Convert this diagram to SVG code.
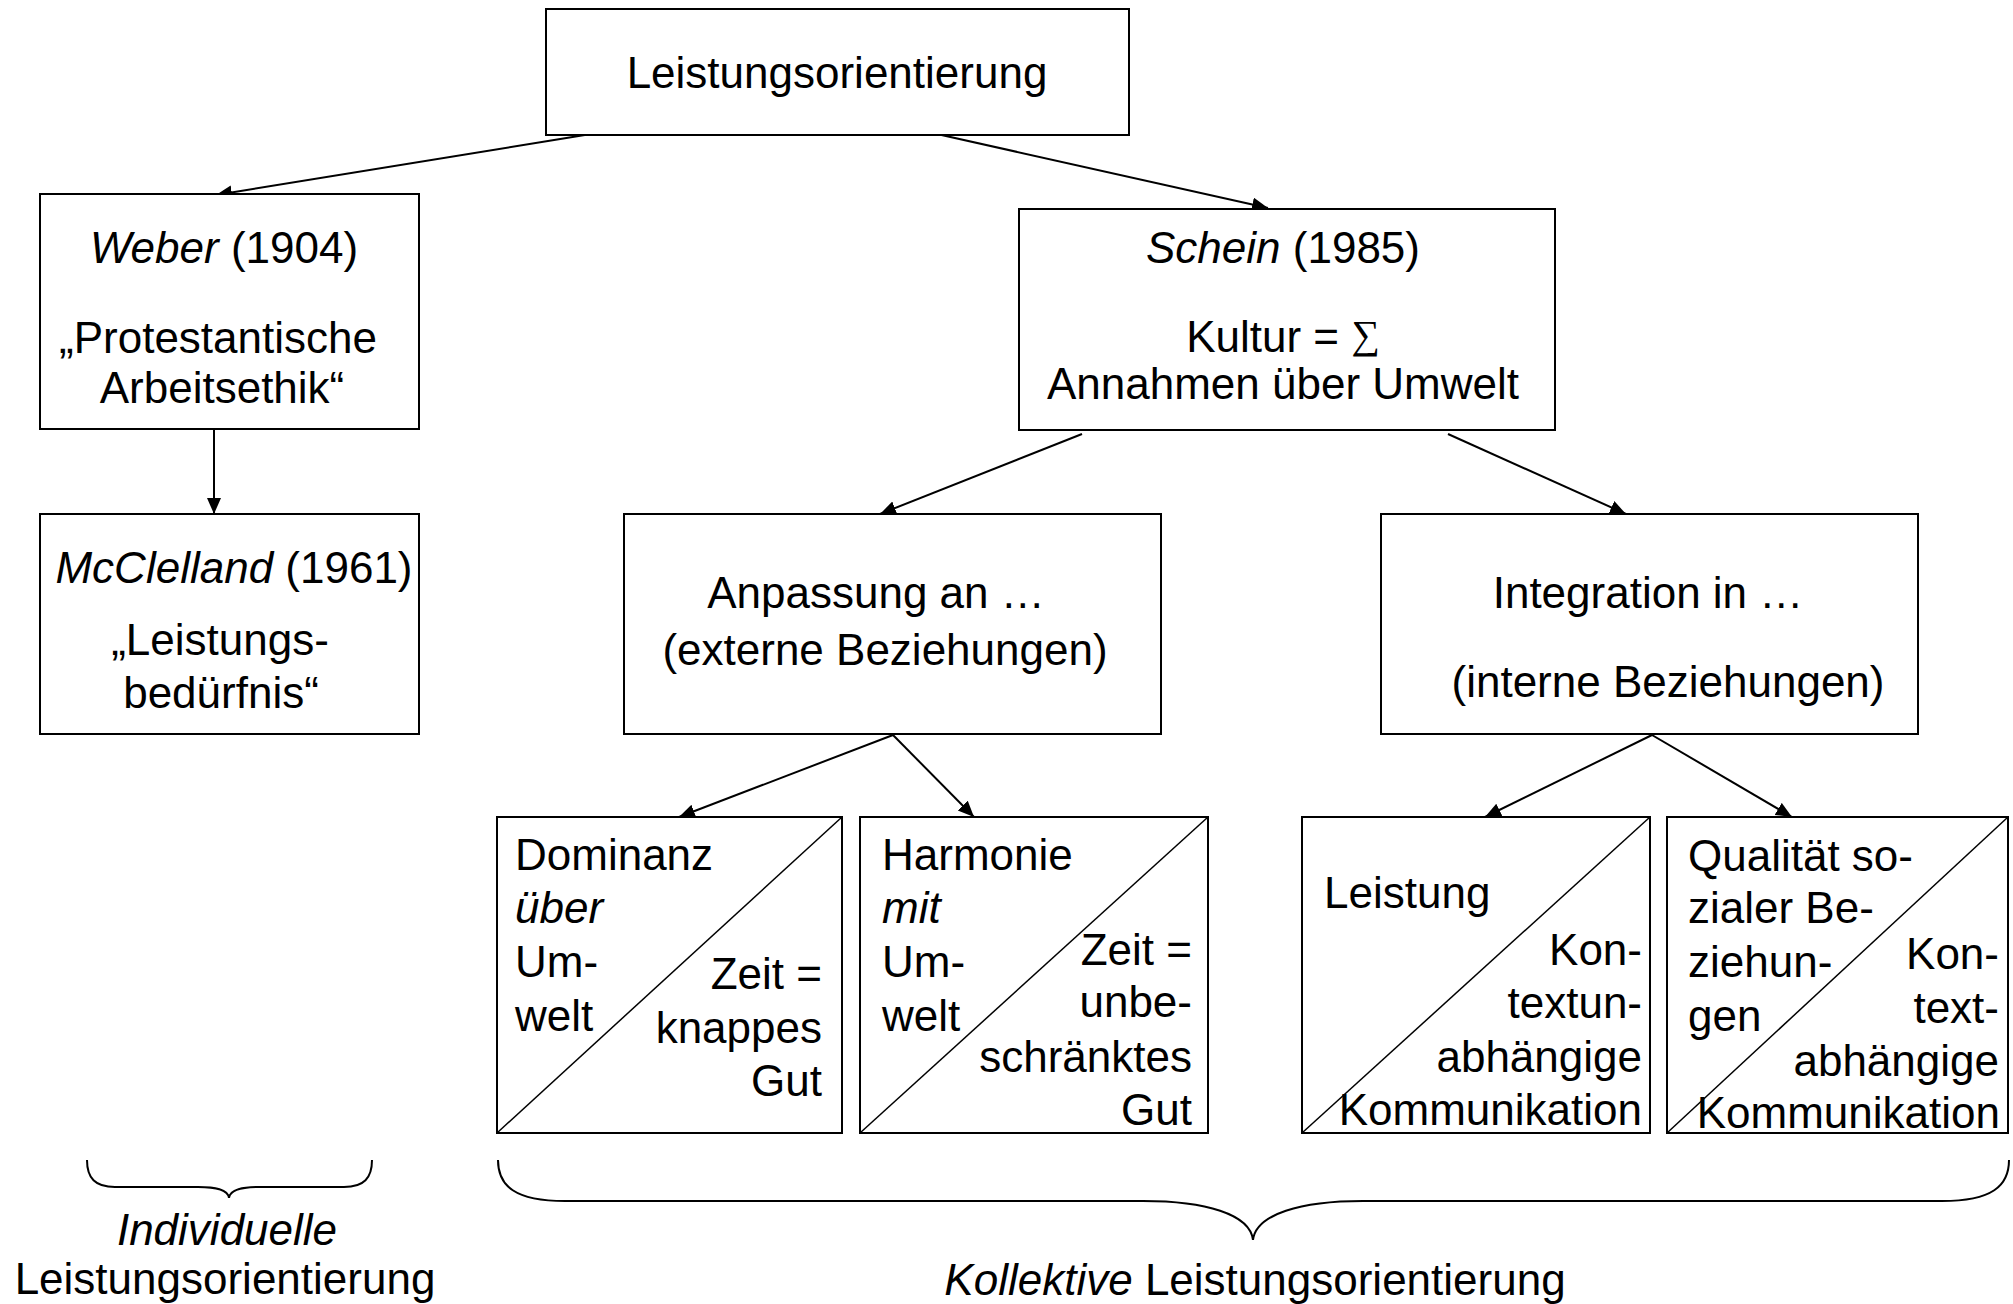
<svg xmlns="http://www.w3.org/2000/svg" width="2013" height="1304" viewBox="0 0 2013 1304">
  <style>
    text { font-family: "Liberation Sans", Arial, sans-serif; font-size: 44px; fill: #000; }
    .c { text-anchor: middle; }
    .r { text-anchor: end; }
    .i { font-style: italic; }
    .box { fill: #fff; stroke: #000; stroke-width: 2; }
    .diag { fill: none; stroke: #000; stroke-width: 1.5; }
    .link { fill: none; stroke: #000; stroke-width: 2; marker-end: url(#arrow); }
    .brace { fill: none; stroke: #000; stroke-width: 2; }
    .sym { font-family: "Liberation Serif", "DejaVu Serif", serif; font-size: 40px; }
  </style>
  <defs>
    <marker id="arrow" markerUnits="userSpaceOnUse" markerWidth="18" markerHeight="16" refX="16" refY="7" orient="auto">
      <path d="M0,0 L16,7 L0,14 z" fill="#000"/>
    </marker>
  </defs>

  <rect width="2013" height="1304" fill="#fff"/>

  <!-- connectors -->
  <g id="connectors">
    <path class="link" d="M591,134 L216,195"/>
    <path class="link" d="M937,134 L1268,208"/>
    <path class="link" d="M214,430 L214,514"/>
    <path class="link" d="M1082,434 L880,514"/>
    <path class="link" d="M1448,434 L1626,514"/>
    <path class="link" d="M893,735 L679,817"/>
    <path class="link" d="M893,735 L974,817"/>
    <path class="link" d="M1652,735 L1485,817"/>
    <path class="link" d="M1652,735 L1792,817"/>
  </g>

  <g id="leistungsorientierung">
    <rect class="box" x="546" y="9" width="583" height="126"/>
    <text class="c" x="837" y="88">Leistungsorientierung</text>
  </g>

  <g id="weber">
    <rect class="box" x="40" y="194" width="379" height="235"/>
    <text class="c" x="224" y="263"><tspan class="i">Weber</tspan> (1904)</text>
    <text class="c" x="218" y="353">„Protestantische</text>
    <text class="c" x="222" y="403">Arbeitsethik“</text>
  </g>

  <g id="mcclelland">
    <rect class="box" x="40" y="514" width="379" height="220"/>
    <text class="c" x="234" y="583"><tspan class="i">McClelland</tspan> (1961)</text>
    <text class="c" x="220" y="655">„Leistungs-</text>
    <text class="c" x="221" y="708">bedürfnis“</text>
  </g>

  <g id="schein">
    <rect class="box" x="1019" y="209" width="536" height="221"/>
    <text class="c" x="1283" y="263"><tspan class="i">Schein</tspan> (1985)</text>
    <text class="c" x="1283" y="352">Kultur = <tspan class="sym" dy="-4">∑</tspan></text>
    <text class="c" x="1283" y="399">Annahmen über Umwelt</text>
  </g>

  <g id="anpassung">
    <rect class="box" x="624" y="514" width="537" height="220"/>
    <text class="c" x="876" y="608">Anpassung an …</text>
    <text class="c" x="885" y="665">(externe Beziehungen)</text>
  </g>

  <g id="integration">
    <rect class="box" x="1381" y="514" width="537" height="220"/>
    <text class="c" x="1648" y="608">Integration in …</text>
    <text class="c" x="1668" y="697">(interne Beziehungen)</text>
  </g>

  <g id="dominanz">
    <rect class="box" x="497" y="817" width="345" height="316"/>
    <path class="diag" d="M497,1133 L842,817"/>
    <text x="515" y="870">Dominanz</text>
    <text class="i" x="515" y="923">über</text>
    <text x="515" y="977">Um-</text>
    <text x="515" y="1031">welt</text>
    <text class="r" x="822" y="989">Zeit =</text>
    <text class="r" x="822" y="1043">knappes</text>
    <text class="r" x="822" y="1096">Gut</text>
  </g>

  <g id="harmonie">
    <rect class="box" x="860" y="817" width="348" height="316"/>
    <path class="diag" d="M860,1133 L1208,817"/>
    <text x="882" y="870">Harmonie</text>
    <text class="i" x="882" y="923">mit</text>
    <text x="882" y="977">Um-</text>
    <text x="882" y="1031">welt</text>
    <text class="r" x="1192" y="965">Zeit =</text>
    <text class="r" x="1192" y="1017">unbe-</text>
    <text class="r" x="1192" y="1072">schränktes</text>
    <text class="r" x="1192" y="1125">Gut</text>
  </g>

  <g id="leistung">
    <rect class="box" x="1302" y="817" width="348" height="316"/>
    <path class="diag" d="M1302,1133 L1650,817"/>
    <text x="1324" y="908">Leistung</text>
    <text class="r" x="1642" y="965">Kon-</text>
    <text class="r" x="1642" y="1018">textun-</text>
    <text class="r" x="1642" y="1072">abhängige</text>
    <text class="r" x="1642" y="1125">Kommunikation</text>
  </g>

  <g id="qualitaet">
    <rect class="box" x="1667" y="817" width="341" height="316"/>
    <path class="diag" d="M1667,1133 L2008,817"/>
    <text x="1688" y="871">Qualität so-</text>
    <text x="1688" y="923">zialer Be-</text>
    <text x="1688" y="977">ziehun-</text>
    <text x="1688" y="1031">gen</text>
    <text class="r" x="1999" y="969">Kon-</text>
    <text class="r" x="1999" y="1023">text-</text>
    <text class="r" x="1999" y="1076">abhängige</text>
    <text class="r" x="2000" y="1128">Kommunikation</text>
  </g>

  <!-- grouping braces and their captions -->
  <g id="individuell">
    <path class="brace" d="M87,1160 C87,1178 95,1187 115,1187 L198,1187 C215,1187 228,1189 229,1198 C230,1189 243,1187 260,1187 L344,1187 C364,1187 372,1178 372,1160"/>
    <text class="c i" x="227" y="1245">Individuelle</text>
    <text class="c" x="225" y="1294">Leistungsorientierung</text>
  </g>

  <g id="kollektiv">
    <path class="brace" d="M498,1160 C498,1186 515,1201 565,1201 L1143,1201 C1205,1201 1250,1214 1253,1240 C1256,1214 1301,1201 1363,1201 L1942,1201 C1992,1201 2009,1186 2009,1160"/>
    <text class="c" x="1255" y="1295"><tspan class="i">Kollektive</tspan> Leistungsorientierung</text>
  </g>
</svg>
